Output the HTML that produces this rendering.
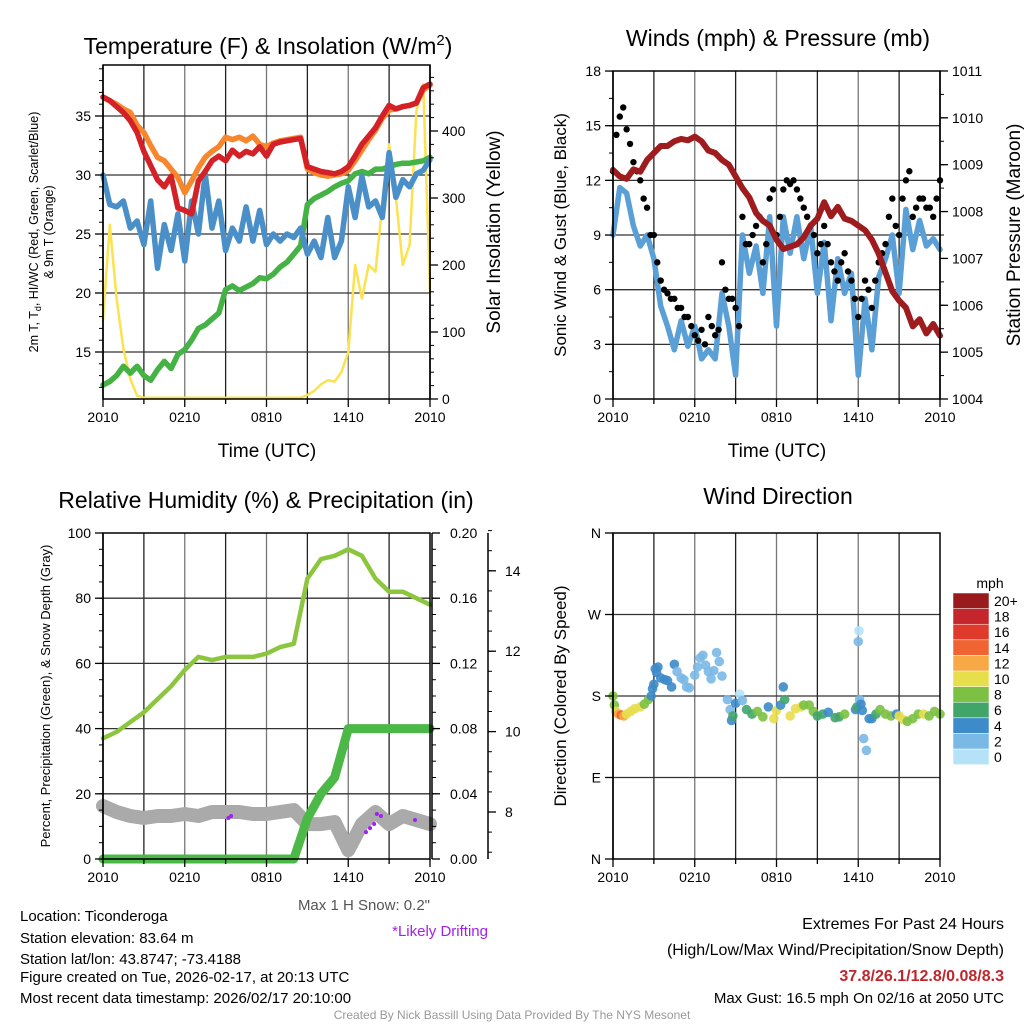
<!DOCTYPE html>
<html><head><meta charset="utf-8"><style>
html,body{margin:0;padding:0;background:#fff;}
svg{display:block;font-family:"Liberation Sans",sans-serif;}
</style></head><body>
<svg id="chart" width="1024" height="1024" viewBox="0 0 1024 1024" xmlns="http://www.w3.org/2000/svg">
<g id="layer-grid"></g><g id="layer-data"></g><g id="layer-axes"></g>
<text x="268" y="54" font-size="23" text-anchor="middle">Temperature (F) &amp; Insolation (W/m<tspan dy="-9" font-size="15">2</tspan><tspan dy="9">)</tspan></text>
<text x="778" y="46" font-size="23" text-anchor="middle">Winds (mph) &amp; Pressure (mb)</text>
<text x="266" y="508" font-size="23" text-anchor="middle">Relative Humidity (%) &amp; Precipitation (in)</text>
<text x="778" y="504" font-size="23" text-anchor="middle">Wind Direction</text>
<text x="267" y="457" font-size="19" text-anchor="middle">Time (UTC)</text>
<text x="777" y="457" font-size="19" text-anchor="middle">Time (UTC)</text>
<text transform="translate(38,232) rotate(-90)" font-size="12.5" text-anchor="middle">2m T, T<tspan dy="3" font-size="9">d</tspan><tspan dy="-3">, HI/WC (Red, Green, Scarlet/Blue)</tspan></text>
<text transform="translate(53,232) rotate(-90)" font-size="12.5" text-anchor="middle">&amp; 9m T (Orange)</text>
<text transform="translate(500,232) rotate(-90)" font-size="19" text-anchor="middle">Solar Insolation (Yellow)</text>
<text transform="translate(566,235) rotate(-90)" font-size="17" text-anchor="middle">Sonic Wind &amp; Gust (Blue, Black)</text>
<text transform="translate(1020,235) rotate(-90)" font-size="19" text-anchor="middle">Station Pressure (Maroon)</text>
<text transform="translate(50,696) rotate(-90)" font-size="13" text-anchor="middle">Percent, Precipitation (Green), &amp; Snow Depth (Gray)</text>
<text transform="translate(566,696) rotate(-90)" font-size="17" text-anchor="middle">Direction (Colored By Speed)</text>
<text x="430" y="910" font-size="15" fill="#555" text-anchor="end">Max 1 H Snow: 0.2"</text>
<text x="488" y="936" font-size="15" fill="#a020f0" text-anchor="end">*Likely Drifting</text>
<g font-size="15">
<text x="20" y="921">Location: Ticonderoga</text>
<text x="20" y="943">Station elevation: 83.64 m</text>
<text x="20" y="964">Station lat/lon: 43.8747; -73.4188</text>
<text x="20" y="982">Figure created on Tue, 2026-02-17, at 20:13 UTC</text>
<text x="20" y="1003">Most recent data timestamp: 2026/02/17 20:10:00</text>
</g>
<g font-size="16" text-anchor="end">
<text x="1004" y="929">Extremes For Past 24 Hours</text>
<text x="1004" y="955">(High/Low/Max Wind/Precipitation/Snow Depth)</text>
<text x="1004" y="981" fill="#c0272d" font-weight="bold">37.8/26.1/12.8/0.08/8.3</text>
<text x="1004" y="1003" font-size="15">Max Gust: 16.5 mph On 02/16 at 2050 UTC</text>
</g>
<text x="512" y="1019" font-size="12" fill="#999" text-anchor="middle">Created By Nick Bassill Using Data Provided By The NYS Mesonet</text>
</svg>
<script>
// ---- data (half-hourly, hours 0..24 from 2010 UTC) ----
const xTickLabels = ["2010","0210","0810","1410","2010"];
const tempRed = [36.6,36.3,35.8,35.3,34.6,33.6,32.0,30.8,29.6,29.0,29.9,27.2,27.0,26.7,29.5,30.3,31.2,31.6,31.2,32.1,31.6,32.0,31.8,32.4,31.6,32.6,32.8,32.9,33.0,33.1,30.7,30.5,30.3,30.2,30.1,30.3,30.7,31.6,32.6,33.3,34.0,35.0,35.9,35.6,35.8,35.9,36.1,37.4,37.7];
const tempOrange = [36.6,36.3,36.0,35.6,35.3,34.2,33.6,32.5,31.5,31.2,30.5,29.8,28.5,29.5,30.6,31.5,32.0,32.4,33.2,33.0,33.2,32.9,33.3,32.6,32.4,32.7,32.9,33.0,33.1,33.2,30.5,30.2,30.0,29.9,30.0,30.1,30.4,31.2,32.1,33.0,33.8,34.8,35.5,35.6,35.8,35.9,36.1,37.2,37.6];
const tempBlue = [30.0,27.5,27.3,27.8,25.5,26.1,24.1,27.8,22.1,25.8,23.6,26.7,22.7,27.8,25.0,30.1,25.5,27.8,23.6,25.5,24.4,27.3,24.4,27.0,24.1,25.0,24.4,25.0,24.7,25.5,23.3,24.4,23.0,26.4,23.0,24.4,29.0,26.4,29.9,27.3,27.8,26.4,31.9,28.1,29.6,29.0,30.1,30.4,31.3];
const tempGreen = [12.2,12.5,13.0,13.8,13.2,13.8,13.0,12.6,13.5,14.2,13.6,14.8,15.2,16.0,17.0,17.3,17.8,18.3,20.3,20.6,20.2,20.5,20.8,21.3,21.2,21.6,22.2,22.6,23.3,24.0,27.5,28.0,28.3,28.6,29.0,29.3,29.5,30.1,30.3,30.1,30.5,30.5,30.7,30.9,31.0,31.0,31.1,31.2,31.5];
const insolation = [118,260,150,75,30,5,2,2,2,2,2,2,2,2,2,2,2,2,2,2,2,2,2,2,2,2,2,2,2,2,6,12,22,28,26,40,70,200,150,200,190,290,380,300,200,230,430,470,160];
const windSpeed = [9.0,11.6,11.3,9.5,8.4,9.0,7.7,5.1,4.0,2.7,4.3,2.9,4.0,2.2,2.7,2.2,5.8,4.0,1.3,9.0,6.9,8.4,5.8,10.0,4.0,10.0,8.0,10.0,7.7,9.5,5.8,8.6,4.3,7.7,5.8,6.9,1.3,5.5,2.7,6.7,7.7,9.0,5.8,10.4,8.2,9.8,8.4,8.8,8.2];
const windGust = [12.5,15.5,14.8,13.0,12.0,10.5,9.0,6.5,5.8,5.5,5.0,4.5,3.5,3.8,4.5,3.5,7.5,5.5,5.0,10.0,8.5,9.5,7.5,11.0,9.0,11.5,11.8,11.5,10.5,9.5,8.0,9.5,7.5,6.5,8.0,6.5,4.5,6.5,5.0,7.5,8.5,11.0,9.0,12.0,10.0,11.0,10.5,10.0,12.0];
const windGustMid = [14.5,16.0,14.0,12.5,11.0,9.0,7.5,6.0,5.5,5.0,4.5,4.0,3.2,3.0,4.0,3.8,6.0,5.5,4.0,8.5,9.0,10.0,8.5,11.5,10.0,12.0,12.0,11.0,10.0,9.0,8.5,8.5,7.0,7.5,7.0,5.5,5.5,6.0,6.5,8.0,10.0,9.5,11.0,12.5,10.5,11.0,10.5,11.0];
const pressure = [1008.89,1008.75,1008.70,1008.90,1008.85,1009.10,1009.25,1009.40,1009.40,1009.50,1009.55,1009.52,1009.60,1009.50,1009.30,1009.25,1009.10,1009.00,1008.75,1008.50,1008.30,1007.97,1007.80,1007.70,1007.40,1007.20,1007.25,1007.30,1007.45,1007.70,1007.85,1008.20,1007.90,1008.10,1007.85,1007.80,1007.70,1007.60,1007.40,1007.10,1006.70,1006.30,1006.10,1005.95,1005.55,1005.70,1005.40,1005.60,1005.35];
// hourly
const humidity = [37,39,42,45,49,53,58,62,61,62,62,62,63,65,66,86,92,93,95,93,86,82,82,80,78];
const precip = [0,0,0,0,0,0,0,0,0,0,0,0,0,0,0,0.025,0.04,0.05,0.08,0.08,0.08,0.08,0.08,0.08,0.08];
const snowDepth = [8.15,8.0,7.9,7.85,7.9,7.9,7.95,7.9,8.0,8.0,8.0,7.95,7.95,8.0,8.05,7.7,7.7,7.75,7.05,7.7,8.0,7.7,7.9,7.8,7.7];
const driftHours = [9.2,9.4,19.3,19.6,19.9,20.1,20.4,22.9];
const driftSnow = [7.85,7.9,7.5,7.6,7.7,7.95,7.9,7.8];
const dirHours = [0,0.1,0.2,0.4,0.6,0.8,1.0,1.3,1.6,2.0,2.3,2.6,2.8,2.9,3.0,3.1,3.2,3.3,3.5,3.8,4.0,4.3,4.5,4.7,5.0,5.2,5.4,5.6,6.0,6.2,6.4,6.6,6.8,7.0,7.2,7.4,7.6,7.8,8.0,8.4,8.6,8.7,8.8,9.0,9.3,9.5,9.8,10.2,10.6,11.0,11.4,11.8,12.0,12.3,12.5,12.6,13.0,13.4,13.8,14.0,14.4,14.7,15.0,15.4,15.8,16.3,16.6,17.0,17.8,17.9,18.0,18.05,18.1,18.2,18.3,18.4,18.6,18.8,19.0,19.3,19.6,20.0,20.4,20.8,21.0,21.3,21.6,22.0,22.4,22.8,23.2,23.6,24.0];
const dirDeg = [180,170,163,160,159,158,160,163,166,168,171,176,180,188,193,210,206,212,200,198,197,190,215,207,200,198,190,189,203,212,222,225,214,207,199,208,228,218,202,176,165,153,158,172,182,175,165,160,163,157,168,155,164,170,190,176,158,166,168,170,170,163,158,160,162,156,157,160,165,168,240,252,176,171,164,133,120,155,155,160,165,160,158,160,158,154,152,155,160,160,158,163,160];
const dirSpeed = [8,8,10,12,14,13,11,10,10,10,8,8,4,4,4,4,4,4,4,4,4,4,4,2,2,3,2,2,2,2,2,2,2,2,2,2,2,2,2,2,2,4,6,4,0,2,6,6,8,8,4,10,10,4,4,6,10,10,10,8,8,8,6,6,4,6,6,8,4,6,2,0,2,4,4,2,2,4,4,6,8,8,8,4,10,10,8,8,8,10,8,8,8];
const speedBins = ["0","2","4","6","8","10","12","14","16","18","20+"];

const NS='http://www.w3.org/2000/svg';
const gGrid=document.getElementById('layer-grid'),gData=document.getElementById('layer-data'),gAx=document.getElementById('layer-axes');
function mk(parent,tag,attrs,text){const e=document.createElementNS(NS,tag);for(const k in attrs)e.setAttribute(k,attrs[k]);if(text!==undefined)e.textContent=text;parent.appendChild(e);return e;}
const colors=['#b5e2f8','#7ab8e6','#3d8bc9','#41a56a','#7cc143','#e7de4c','#f8a945','#ef6431','#df3a2b','#c4262b','#9a1b1d'];
function speedColor(s){return colors[Math.min(10,Math.floor(s/2))];}

function makePanel(p){
  const xs=h=>p.x0+(p.x1-p.x0)*h/24;
  for(let h=3;h<24;h+=3){const l=mk(gGrid,'line',{x1:xs(h),x2:xs(h),y1:p.y0,y2:p.y1,stroke:(h%6===0)?'#777':'#222','stroke-width':1.3});
    }
  p.hgrid.forEach(y=>{const l=mk(gGrid,'line',{x1:p.x0,x2:p.x1,y1:y,y2:y,stroke:'#333','stroke-width':1.3});
    });
  const fr=mk(gAx,'rect',{x:p.x0,y:p.y0,width:p.x1-p.x0,height:p.y1-p.y0,fill:'none',stroke:'#000','stroke-width':1.5});
  
  for(let h=0;h<=24;h+=3){const t=mk(gAx,'line',{x1:xs(h),x2:xs(h),y1:p.y1,y2:p.y1+(h%6===0?8:5),stroke:'#000','stroke-width':1.3});
    }
  xTickLabels.forEach((s,i)=>{const t=mk(gAx,'text',{x:xs(i*6),y:p.y1+23,'font-size':14,'text-anchor':'middle'},s);
    });
  return xs;
}
function yAxis(x,scale,vals,labels,side,minorVals,y0,y1,name,lx){
  const ax=mk(gAx,'line',{x1:x,x2:x,y1:y0,y2:y1,stroke:'#000','stroke-width':1.5});
  
  const d=side==='left'?-1:1;
  minorVals.forEach(v=>{const t=mk(gAx,'line',{x1:x,x2:x+d*4,y1:scale(v),y2:scale(v),stroke:'#000','stroke-width':1});
    });
  vals.forEach((v,i)=>{const y=scale(v);const t=mk(gAx,'line',{x1:x,x2:x+d*8,y1:y,y2:y,stroke:'#000','stroke-width':1.3});
    
    const tx=mk(gAx,'text',{x:lx!==undefined?lx:x+d*12,y:y+5,'font-size':14,'text-anchor':side==='left'?'end':'start'},labels[i]);
    });
}
function line(xs,hours,vals,ys,color,w,name){
  const pts=vals.map((v,i)=>xs(hours[i]).toFixed(1)+','+ys(v).toFixed(1)).join(' ');
  const l=mk(gData,'polyline',{points:pts,fill:'none',stroke:color,'stroke-width':w,'stroke-linejoin':'round','stroke-linecap':'round'});
  
}
const hh=tempRed.map((_,i)=>i/2), h1=humidity.map((_,i)=>i);
function range(a,b,s){const r=[];for(let v=a;v<=b+1e-9;v+=s)r.push(+v.toFixed(4));return r;}

// Panel 1
const t1y=v=>352-(v-15)*11.8, i1y=v=>399-v*0.67;
const xs1=makePanel({name:'temp',x0:103,x1:430,y0:65,y1:399,hgrid:[15,20,25,30,35].map(t1y)});
yAxis(103,t1y,[15,20,25,30,35],['15','20','25','30','35'],'left',range(12,39,1),65,399,'temp-y-axis');
yAxis(430,i1y,[0,100,200,300,400],['0','100','200','300','400'],'right',range(0,480,20),65,399,'insolation-y-axis');
line(xs1,hh,insolation,i1y,'#fbe24e',2.5,'insolation-line');
line(xs1,hh,tempGreen,t1y,'#45b245',5.5,'dewpoint-line');
line(xs1,hh,tempBlue,t1y,'#4a8fc8',5.5,'windchill-line');
line(xs1,hh,tempOrange,t1y,'#f7862d',5.5,'temp-9m-line');
line(xs1,hh,tempRed,t1y,'#d42027',5.5,'temp-2m-line');

// Panel 2
const w2y=v=>399-v*18.22, p2y=v=>399-(v-1004)*46.86;
const xs2=makePanel({name:'wind',x0:613,x1:940,y0:71,y1:399,hgrid:[3,6,9,12,15].map(w2y)});
yAxis(613,w2y,[0,3,6,9,12,15,18],['0','3','6','9','12','15','18'],'left',range(0,18,1.5),71,399,'wind-y-axis');
yAxis(940,p2y,range(1004,1011,1),range(1004,1011,1).map(String),'right',range(1004,1011,0.5),71,399,'pressure-y-axis');
line(xs2,hh,windSpeed,w2y,'#5a9fd6',5.5,'sonic-wind-line');
windGust.forEach((v,i)=>{const c=mk(gData,'circle',{cx:xs2(hh[i]),cy:w2y(v),r:3.2,fill:'#000'});
  });
windGustMid.forEach((v,i)=>{const c=mk(gData,'circle',{cx:xs2(hh[i]+0.25),cy:w2y(v),r:3.2,fill:'#000'});
  });
line(xs2,hh,pressure,p2y,'#9e1b1e',6,'pressure-line');

// Panel 3
const r3y=v=>859-v*3.26, pr3y=v=>859-v*1630, s3y=v=>812-(v-8)*40.2;
const xs3=makePanel({name:'humidity',x0:103,x1:430,y0:533,y1:859,hgrid:[20,40,60,80].map(r3y)});
yAxis(103,r3y,[0,20,40,60,80,100],['0','20','40','60','80','100'],'left',range(0,100,5),533,859,'humidity-y-axis');
yAxis(432,pr3y,[0,0.04,0.08,0.12,0.16,0.2],['0.00','0.04','0.08','0.12','0.16','0.20'],'right',range(0,0.2,0.01),533,859,'precip-y-axis',450);
yAxis(488,s3y,[8,10,12,14],['8','10','12','14'],'right',range(7,15,0.5),533,859,'snow-y-axis',505);
line(xs3,h1,snowDepth,s3y,'#aaaaaa',14,'snow-depth-line');
driftHours.forEach((h,i)=>{const c=mk(gData,'circle',{cx:xs3(h),cy:s3y(driftSnow[i]),r:2,fill:'#a020f0'});
  });
line(xs3,h1,humidity,r3y,'#8cc63f',4.5,'humidity-line');
line(xs3,h1,precip,pr3y,'#4cb848',9,'precip-line');

// Panel 4
const d4y=v=>859-v*(326/360);
const xs4=makePanel({name:'direction',x0:613,x1:940,y0:533,y1:859,hgrid:[90,180,270].map(d4y)});
yAxis(613,d4y,[0,90,180,270,360],['N','E','S','W','N'],'left',[],533,859,'direction-y-axis');
dirHours.forEach((h,i)=>{const c=mk(gData,'circle',{cx:xs4(h),cy:d4y(dirDeg[i]),r:4.8,fill:speedColor(dirSpeed[i]),opacity:0.9});
  });
const cbT=mk(gAx,'text',{x:990,y:588,'font-size':14,'text-anchor':'middle'},'mph');

speedBins.forEach((s,i)=>{const y=593+(10-i)*15.6;
  const r=mk(gAx,'rect',{x:953,y:y,width:36,height:15.6,fill:colors[i],stroke:'#fff','stroke-width':0.5});
  
  const t=mk(gAx,'text',{x:994,y:y+13,'font-size':14},s);
  });
</script>
</body></html>
